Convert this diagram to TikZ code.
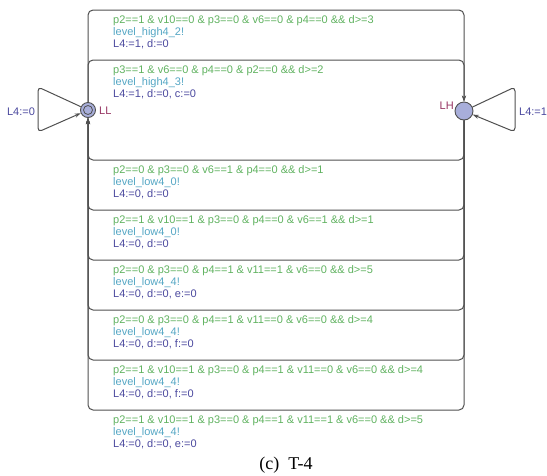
\documentclass[tikz,border=0pt]{standalone}
\usepackage{fontspec}
\setmainfont{Liberation Sans}
\newfontfamily\capfont{Liberation Serif}
\usetikzlibrary{arrows.meta}
\definecolor{guardc}{RGB}{96,178,96}
\definecolor{syncc}{RGB}{84,166,196}
\definecolor{assignc}{RGB}{74,72,158}
\definecolor{namec}{RGB}{150,52,98}
\definecolor{locfill}{RGB}{168,174,218}
\definecolor{edgec}{RGB}{80,80,80}
\begin{document}
\begin{tikzpicture}[x=1pt,y=-1pt,
  loc/.style={circle, draw=edgec, fill=locfill, line width=0.9pt, inner sep=0pt, minimum size=#1},
  edge/.style={draw=edgec, line width=1pt, rounded corners=5pt, -{Stealth[length=6pt,width=4pt]}},
  lbl/.style={anchor=north west, align=left, inner sep=0pt, font=\fontsize{11}{12}\selectfont},
  locname/.style={text=namec, inner sep=0pt, font=\fontsize{11}{12}\selectfont},
  asg/.style={text=assignc, inner sep=0pt, font=\fontsize{11}{12}\selectfont}
]
\useasboundingbox (0,0) rectangle (547,475);

% locations
\node[loc=15pt] (LL) at (88,110) {};
\node[circle, draw=edgec, line width=0.8pt, inner sep=0pt, minimum size=9pt] (LLi) at (LL) {};
\node[loc=18pt] (LH) at (464,111) {};
\node[locname, anchor=west] (LLn) at (99,111) {LL};
\node[locname, anchor=east] (LHn) at (454,106) {LH};

% self loops
\coordinate (la) at (38,87);
\coordinate (lb) at (38,132);
\coordinate (ra) at (515,87);
\coordinate (rb) at (515,132);
\draw[edge, rounded corners=4pt] (LL) -- (la) -- (lb) -- (LL);
\draw[edge, rounded corners=4pt] (LH) -- (ra) -- (rb) -- (LH);
\node[asg] (l0) at (21,112) {L4:=0};
\node[asg, anchor=west] (l1) at (519,112) {L4:=1};

% upper edges LL -> LH
\foreach \y [count=\i] in {10,60} {
  \coordinate (u\i a) at (88,\y);
  \coordinate (u\i b) at (464,\y);
  \draw[edge] (LL) -- (u\i a) -- (u\i b) -- (LH);
}
% lower edges LH -> LL
\foreach \y [count=\i] in {160,210,260,310,360,410} {
  \coordinate (d\i a) at (464,\y);
  \coordinate (d\i b) at (88,\y);
  \draw[edge] (LH) -- (d\i a) -- (d\i b) -- (LL);
}

% labels
\node[lbl] (t1) at (113,15) {\color{guardc}p2==1 \& v10==0 \& p3==0 \& v6==0 \& p4==0 \&\& d>=3\\\color{syncc}level\_high4\_2!\\\color{assignc}L4:=1, d:=0};
\node[lbl] (t2) at (113,65) {\color{guardc}p3==1 \& v6==0 \& p4==0 \& p2==0 \&\& d>=2\\\color{syncc}level\_high4\_3!\\\color{assignc}L4:=1, d:=0, c:=0};
\node[lbl] (b1) at (113,165) {\color{guardc}p2==0 \& p3==0 \& v6==1 \& p4==0 \&\& d>=1\\\color{syncc}level\_low4\_0!\\\color{assignc}L4:=0, d:=0};
\node[lbl] (b2) at (113,215) {\color{guardc}p2==1 \& v10==1 \& p3==0 \& p4==0 \& v6==1 \&\& d>=1\\\color{syncc}level\_low4\_0!\\\color{assignc}L4:=0, d:=0};
\node[lbl] (b3) at (113,265) {\color{guardc}p2==0 \& p3==0 \& p4==1 \& v11==1 \& v6==0 \&\& d>=5\\\color{syncc}level\_low4\_4!\\\color{assignc}L4:=0, d:=0, e:=0};
\node[lbl] (b4) at (113,315) {\color{guardc}p2==0 \& p3==0 \& p4==1 \& v11==0 \& v6==0 \&\& d>=4\\\color{syncc}level\_low4\_4!\\\color{assignc}L4:=0, d:=0, f:=0};
\node[lbl] (b5) at (113,365) {\color{guardc}p2==1 \& v10==1 \& p3==0 \& p4==1 \& v11==0 \& v6==0 \&\& d>=4\\\color{syncc}level\_low4\_4!\\\color{assignc}L4:=0, d:=0, f:=0};
\node[lbl] (b6) at (113,415) {\color{guardc}p2==1 \& v10==1 \& p3==0 \& p4==1 \& v11==1 \& v6==0 \&\& d>=5\\\color{syncc}level\_low4\_4!\\\color{assignc}L4:=0, d:=0, e:=0};

% caption
\node[font=\capfont\fontsize{18}{20}\selectfont, inner sep=0pt] (cap) at (286,465) {(c)\hspace{9pt}T-4};
\end{tikzpicture}
\end{document}
